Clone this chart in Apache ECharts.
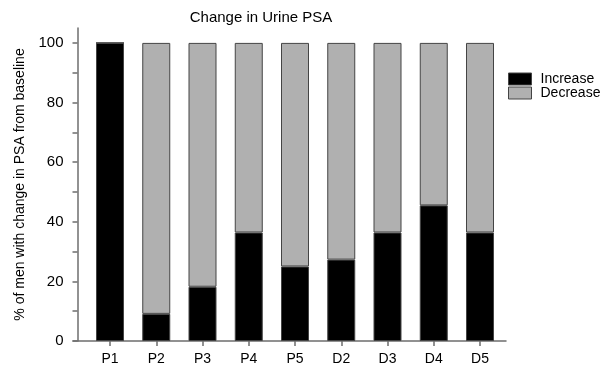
<!DOCTYPE html>
<html>
<head>
<meta charset="utf-8">
<script src="https://cdn.jsdelivr.net/npm/echarts@6/dist/echarts.min.js"></script>
<style>
  html, body { margin: 0; padding: 0; background: #fff; }
  #chart { width: 611px; height: 367px; }
</style>
</head>
<body>
<div id="chart"></div>
<script>
// Visit labels along the x axis
const categories = ['P1', 'P2', 'P3', 'P4', 'P5', 'D2', 'D3', 'D4', 'D5'];
// Percent of men whose urine PSA rose / fell from baseline
const increaseValues = [100, 9.1, 18.2, 36.4, 25.0, 27.3, 36.4, 45.5, 36.4];
const decreaseValues = [0, 90.9, 81.8, 63.6, 75.0, 72.7, 63.6, 54.5, 63.6];
// Y axis tick values
const yTickValues = [0, 10, 20, 30, 40, 50, 60, 70, 80, 90, 100];
const yLabelValues = [0, 20, 40, 60, 80, 100];

const FONT = 'Liberation Sans, Arial, sans-serif';
const AXIS_COLOR = '#6e6e6e';
const TOP = 28, BOTTOM = 26;

const chart = echarts.init(document.getElementById('chart'), null, { renderer: 'canvas' });

chart.setOption({
  animation: false,
  backgroundColor: '#fff',
  title: {
    text: 'Change in Urine PSA',
    left: 256,
    top: 5,
    textAlign: 'center',
    textStyle: { fontFamily: FONT, fontSize: 15, fontWeight: 'normal', color: '#000' }
  },
  legend: {
    orient: 'vertical',
    left: 508,
    top: 72,
    icon: 'rect',
    itemWidth: 23,
    itemHeight: 12,
    itemGap: 0,
    padding: 0,
    selectedMode: false,
    textStyle: { fontFamily: FONT, fontSize: 14, color: '#000', padding: [0, 0, 0, 4] },
    data: [
      { name: 'Increase', itemStyle: { color: '#000', borderColor: '#444', borderWidth: 1 } },
      { name: 'Decrease', itemStyle: { color: '#b0b0b0', borderColor: '#444', borderWidth: 1 } }
    ]
  },
  grid: [
    // plotting area for the bars (one band per visit)
    { left: 86.875, right: 107.875, top: TOP, bottom: BOTTOM },
    // frame grid carrying the full-length x axis line
    { left: 73, right: 105, top: TOP, bottom: BOTTOM }
  ],
  xAxis: [
    {
      type: 'category',
      gridIndex: 0,
      data: categories,
      boundaryGap: true,
      axisLine: { show: false },
      axisTick: {
        show: true, alignWithLabel: true, length: 5,
        lineStyle: { color: AXIS_COLOR, width: 1.5 }
      },
      axisLabel: { fontFamily: FONT, fontSize: 14, color: '#000', margin: 11 }
    },
    {
      type: 'value',
      gridIndex: 1,
      min: 0,
      max: 1,
      axisLine: { show: true, onZero: false, lineStyle: { color: AXIS_COLOR, width: 1.5 } },
      axisTick: { show: false },
      axisLabel: { show: false },
      splitLine: { show: false }
    }
  ],
  yAxis: [
    {
      type: 'value',
      gridIndex: 0,
      min: 0,
      max: 105,
      offset: 9.375,
      name: '% of men with change in PSA from baseline',
      nameLocation: 'middle',
      nameGap: 49,
      nameTextStyle: { fontFamily: FONT, fontSize: 14, color: '#000' },
      splitLine: { show: false },
      axisLine: { show: true, lineStyle: { color: AXIS_COLOR, width: 1.5 } },
      axisTick: {
        show: true, inside: false, length: 5,
        customValues: yTickValues,
        lineStyle: { color: AXIS_COLOR, width: 1.5 }
      },
      axisLabel: {
        customValues: yLabelValues,
        fontFamily: FONT, fontSize: 15, color: '#000', margin: 14
      }
    },
    {
      type: 'value',
      gridIndex: 1,
      min: 0,
      max: 1,
      show: false
    }
  ],
  series: [
    {
      name: 'Increase',
      type: 'bar',
      stack: 'psa',
      xAxisIndex: 0,
      yAxisIndex: 0,
      barWidth: 28,
      data: increaseValues,
      itemStyle: { color: '#000', borderColor: '#444', borderWidth: 1 }
    },
    {
      name: 'Decrease',
      type: 'bar',
      stack: 'psa',
      xAxisIndex: 0,
      yAxisIndex: 0,
      barWidth: 28,
      data: decreaseValues,
      itemStyle: { color: '#b0b0b0', borderColor: '#444', borderWidth: 1 }
    }
  ]
});
</script>
</body>
</html>
